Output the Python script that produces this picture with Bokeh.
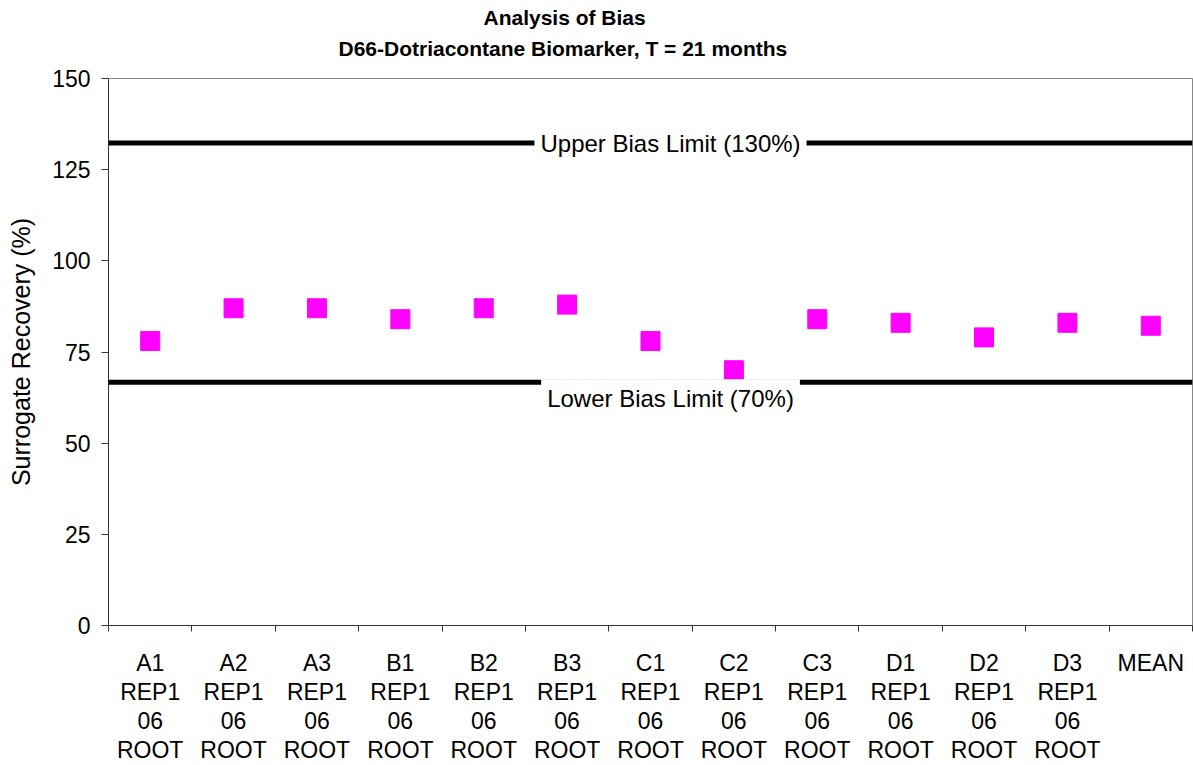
from bokeh.plotting import figure
from bokeh.models import FixedTicker, Span, Label, ColumnDataSource, Range1d, Title
from bokeh.embed import file_html
from bokeh.resources import INLINE

# ---- data ----
categories = ["A1\nREP1\n06\nROOT", "A2\nREP1\n06\nROOT", "A3\nREP1\n06\nROOT",
              "B1\nREP1\n06\nROOT", "B2\nREP1\n06\nROOT", "B3\nREP1\n06\nROOT",
              "C1\nREP1\n06\nROOT", "C2\nREP1\n06\nROOT", "C3\nREP1\n06\nROOT",
              "D1\nREP1\n06\nROOT", "D2\nREP1\n06\nROOT", "D3\nREP1\n06\nROOT",
              "MEAN"]
recovery = [78, 87, 87, 84, 87, 88, 78, 70, 84, 83, 79, 83, 82.2]
limit_values = [132.3, 66.7]
limit_labels = ["Upper Bias Limit (130%)", "Lower Bias Limit (70%)"]
y_ticks = [0, 25, 50, 75, 100, 125, 150]
title_lines = ["Analysis of Bias", "D66-Dotriacontane Biomarker, T = 21 months"]

FONT = "Liberation Sans"

positions = [i + 1 for i in range(len(categories))]
src = ColumnDataSource(data=dict(x=positions, y=recovery))

p = figure(width=1193, height=765, output_backend="svg", toolbar_location=None,
           x_range=Range1d(0.5, len(categories) + 0.5), y_range=Range1d(0, 150),
           min_border_left=108, min_border_right=1, min_border_top=78, min_border_bottom=139)

p.title.visible = False
# spacer closest to the frame, then the two title lines
p.add_layout(Title(text=" ", text_font_size="1px", standoff=10), "above")
p.add_layout(Title(text=title_lines[1], align="left", offset=230, text_font=FONT,
                   text_font_size="21px", text_font_style="bold", text_color="black",
                   standoff=12), "above")
p.add_layout(Title(text=title_lines[0], align="left", offset=375, text_font=FONT,
                   text_font_size="21px", text_font_style="bold", text_color="black",
                   standoff=0), "above")

p.outline_line_color = "#888888"
p.grid.visible = False

# x axis: labels at centres, tick marks at boundaries (minor ticks)
xa = p.xaxis[0]
xa.ticker = FixedTicker(ticks=positions, minor_ticks=[i + 0.5 for i in range(len(categories) + 1)])
xa.major_label_overrides = {pos: lab for pos, lab in zip(positions, categories)}
xa.major_tick_out = 0
xa.major_tick_in = 0
xa.minor_tick_out = 6
xa.minor_tick_in = 0
xa.minor_tick_line_color = "#333333"
xa.axis_line_color = "#333333"
xa.major_label_text_font = FONT
xa.major_label_text_font_size = "23px"
xa.major_label_text_color = "black"
xa.major_label_text_line_height = 1.12
xa.major_label_standoff = 18

ya = p.yaxis[0]
ya.ticker = FixedTicker(ticks=y_ticks)
ya.major_tick_out = 7
ya.major_tick_in = 0
ya.minor_tick_out = 0
ya.minor_tick_in = 0
ya.axis_line_color = "#333333"
ya.major_tick_line_color = "#333333"
ya.major_label_text_font = FONT
ya.major_label_text_font_size = "23px"
ya.major_label_text_color = "black"
ya.major_label_standoff = 11
ya.axis_label = "Surrogate Recovery (%)"
ya.axis_label_text_font = FONT
ya.axis_label_text_font_size = "25px"
ya.axis_label_text_font_style = "normal"
ya.axis_label_text_color = "black"
ya.axis_label_standoff = 14

# limit lines
for v in limit_values:
    p.add_layout(Span(location=v, dimension="width", line_color="black", line_width=5))

label_x = 7.24
p.add_layout(Label(x=label_x, y=limit_values[0], text=limit_labels[0], text_align="center",
                   text_baseline="middle", text_font=FONT, text_font_size="24px", text_color="black",
                   background_fill_color="white", padding=6))
p.add_layout(Label(x=label_x, y=limit_values[1], text=limit_labels[1], text_align="center",
                   text_baseline="top", y_offset=3, text_font=FONT, text_font_size="24px", text_color="black",
                   background_fill_color="white", padding=6))

p.scatter("x", "y", source=src, marker="square", size=19, fill_color="#FF00FF", line_color="#FF00FF")

open("out.html", "w").write(file_html(p, INLINE))
